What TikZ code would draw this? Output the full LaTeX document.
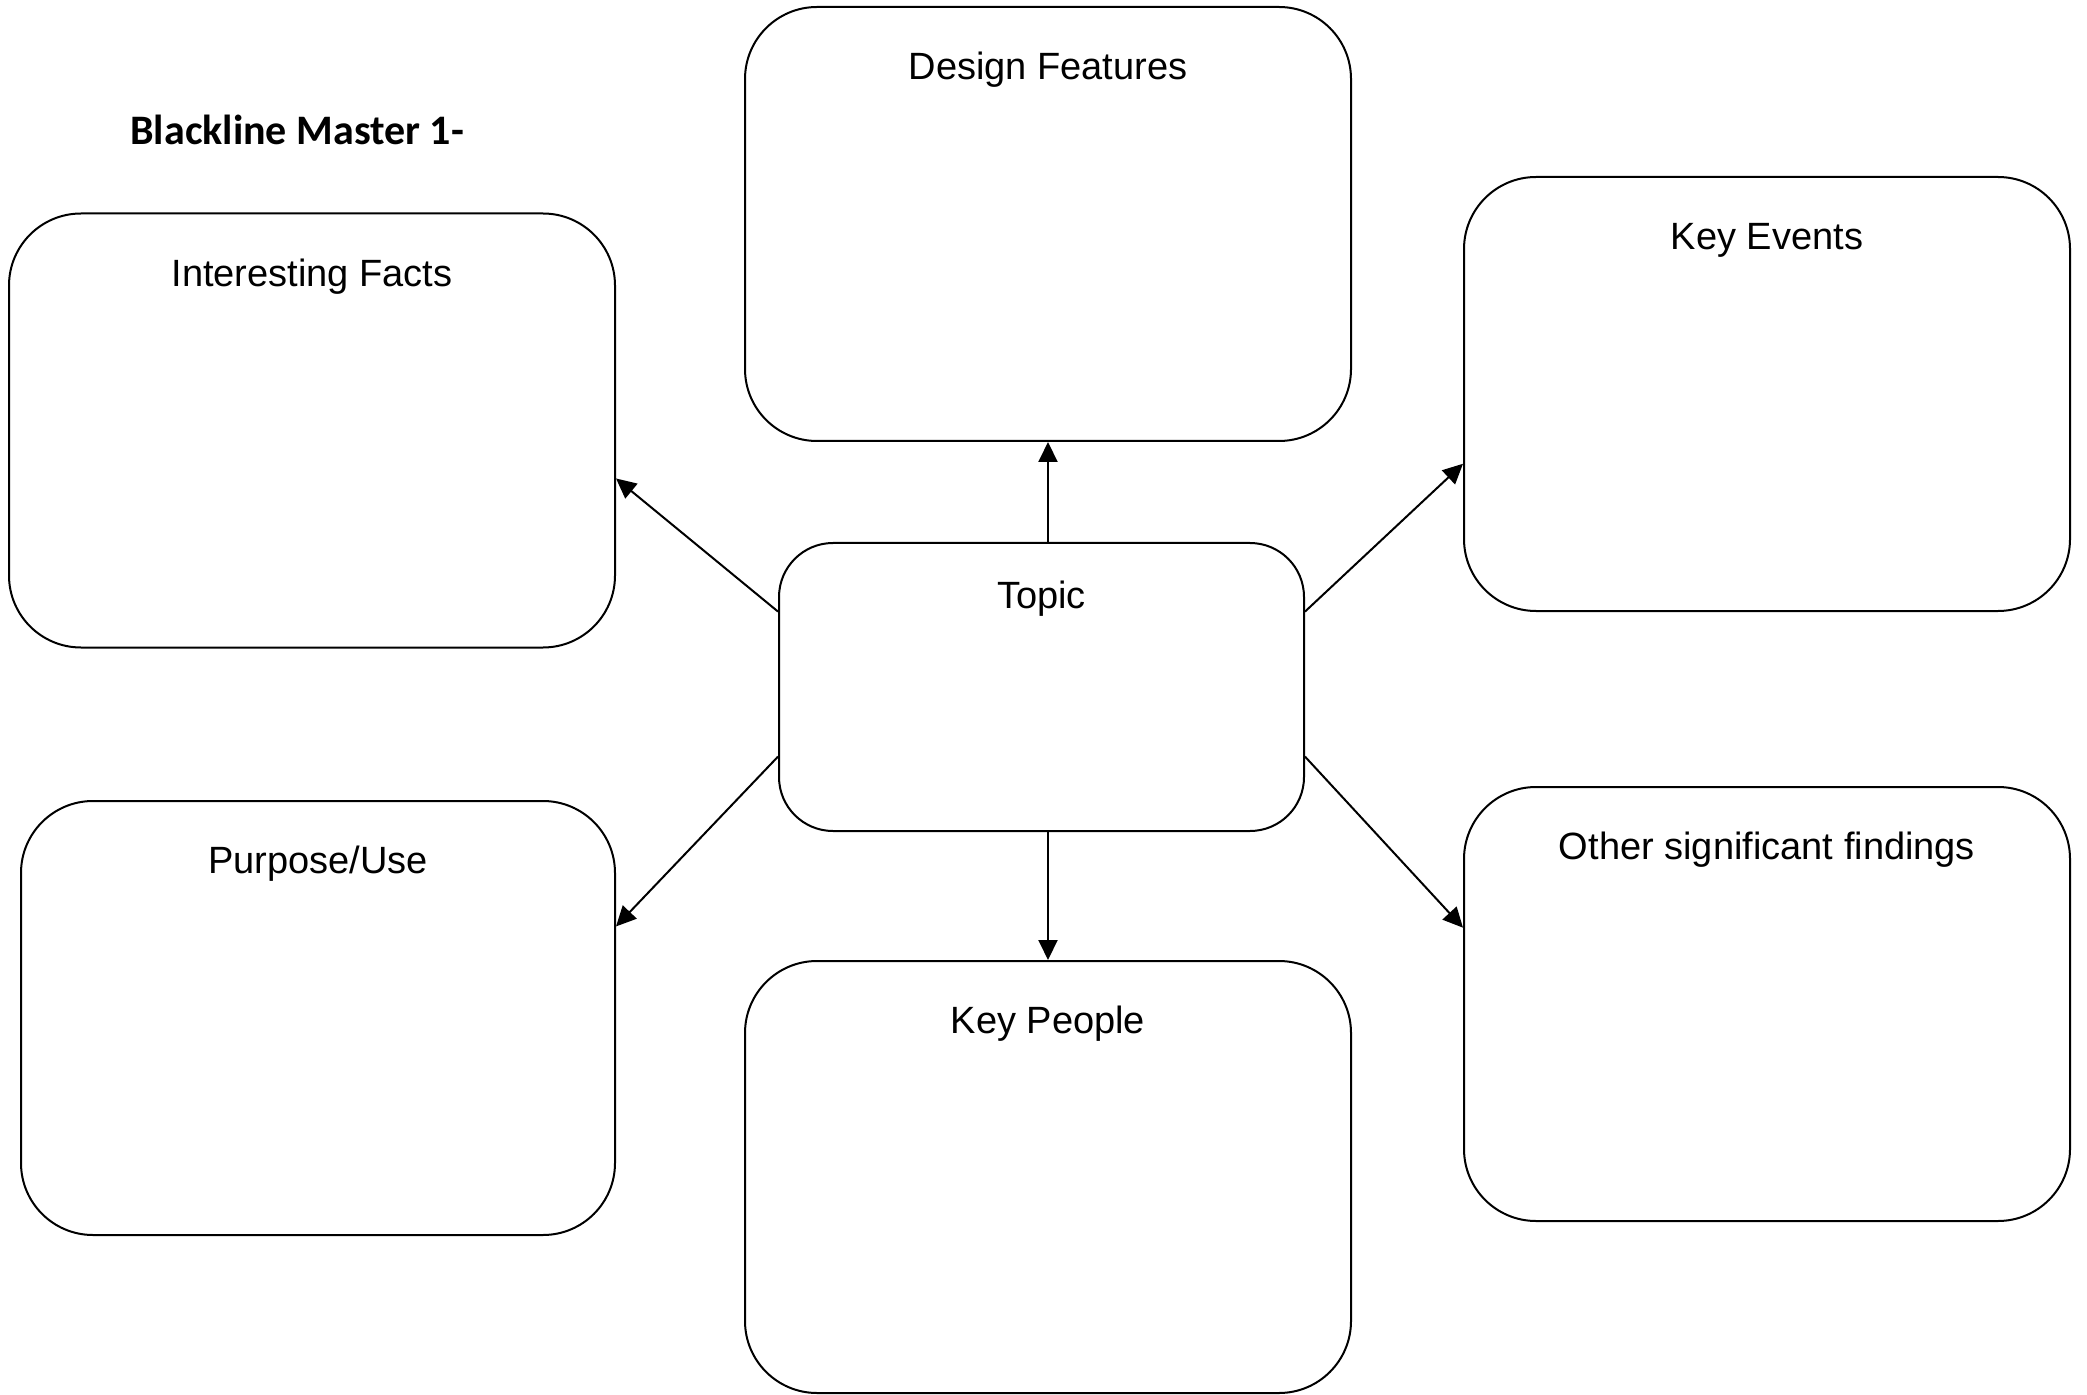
\documentclass[tikz,border=0pt]{standalone}
\usepackage{fontspec}
\setmainfont{Liberation Sans}
\newfontfamily\titlefont{Carlito}
\usetikzlibrary{arrows.meta,calc}

\tikzset{
  box/.style={draw=black, line width=1pt, rounded corners=36pt,
              minimum width=303pt, minimum height=217pt, inner sep=0pt},
  topicbox/.style={draw=black, line width=1pt, rounded corners=27pt,
              minimum width=262.5pt, minimum height=144pt, inner sep=0pt},
  boxlabel/.style={font=\fontsize{19}{23}\selectfont, inner sep=0pt, anchor=center},
  link/.style={line width=1pt, -{Triangle[length=10pt,width=9.5pt]}}
}

\begin{document}
\begin{tikzpicture}[x=0.5pt, y=-0.5pt]
  % page frame
  \fill[white] (0,0) rectangle (2087,1395);
  \useasboundingbox (0,0) rectangle (2087,1395);

  % heading
  \node[anchor=west, inner sep=0pt, font=\titlefont\bfseries\fontsize{21}{25}\selectfont] (title) at (130,130) {Blackline Master 1-};

  % boxes
  \node[box] (design) at (1048,224) {};
  \node[box] (facts) at (312,430.5) {};
  \node[box] (events) at (1767,394) {};
  \node[topicbox] (topic) at (1041.5,687) {};
  \node[box, minimum width=297pt] (purpose) at (318,1018) {};
  \node[box, minimum height=216pt] (people) at (1048,1177) {};
  \node[box] (other) at (1767,1004) {};

  % box headings
  \node[boxlabel] (designlbl) at ($(design.north)+(0,64)$) {Design Features};
  \node[boxlabel] (factslbl) at ($(facts.north)+(0,64)$) {Interesting Facts};
  \node[boxlabel] (eventslbl) at ($(events.north)+(0,64)$) {Key Events};
  \node[boxlabel] (topiclbl) at ($(topic.north)+(0,57)$) {Topic};
  \node[boxlabel] (purposelbl) at ($(purpose.north)+(0,64)$) {Purpose/Use};
  \node[boxlabel] (peoplelbl) at ($(people.north)+(0,64)$) {Key People};
  \node[boxlabel] (otherlbl) at ($(other.north)+(0,64)$) {Other significant findings};

  % connectors from the topic outwards
  \draw[link] (topic.north -| design.south) -- (design.south);
  \draw[link] (topic.south -| people.north) -- (people.north);
  \draw[link] ($(topic.north west)!0.24!(topic.south west)$) -- ($(facts.north east)!0.61!(facts.south east)$);
  \draw[link] ($(topic.north east)!0.24!(topic.south east)$) -- ($(events.north west)!0.66!(events.south west)$);
  \draw[link] ($(topic.north west)!0.74!(topic.south west)$) -- ($(purpose.north east)!0.29!(purpose.south east)$);
  \draw[link] ($(topic.north east)!0.74!(topic.south east)$) -- ($(other.north west)!0.325!(other.south west)$);
\end{tikzpicture}
\end{document}
